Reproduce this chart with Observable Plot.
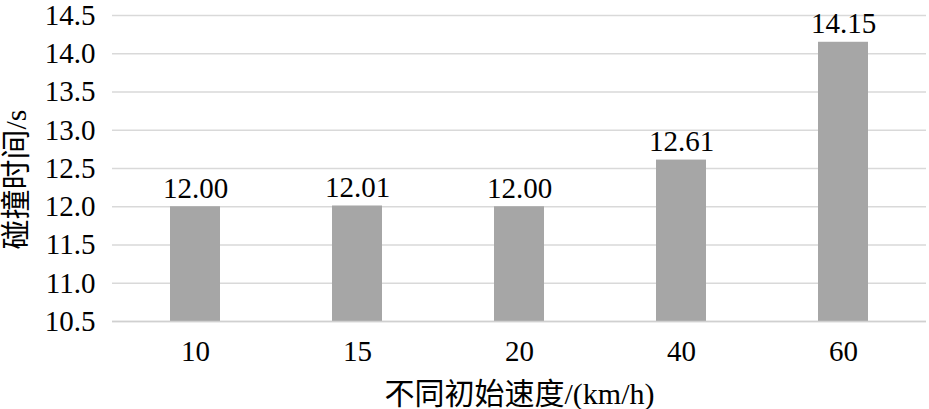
<!DOCTYPE html>
<html>
<head>
<meta charset="utf-8">
<script src="https://cdn.jsdelivr.net/npm/d3@7"></script>
<script src="https://cdn.jsdelivr.net/npm/@observablehq/plot@0.6"></script>
<style>
  html, body { margin: 0; padding: 0; background: #fff; }
  #chart svg { display: block; }
</style>
</head>
<body>
<div id="chart"></div>
<script>
const speeds = ["10", "15", "20", "40", "60"];
const times = [12.00, 12.01, 12.00, 12.61, 14.15];
const yTicks = [10.5, 11.0, 11.5, 12.0, 12.5, 13.0, 13.5, 14.0, 14.5];
const xTitle = "不同初始速度/(km/h)";
const yTitle = "碰撞时间/s";

const data = speeds.map((s, i) => ({speed: s, time: times[i]}));
const serif = "Liberation Serif, Times New Roman, Noto Sans CJK SC, serif";

const chart = Plot.plot({
  width: 929,
  height: 409,
  marginLeft: 112,
  marginRight: 3,
  marginTop: 15,
  marginBottom: 88,
  style: {fontFamily: serif, fontSize: "29px", color: "#000", background: "#fff"},
  x: {domain: speeds, paddingInner: 0.69, paddingOuter: 0.345, axis: null, label: null},
  y: {domain: [10.5, 14.5], axis: null, label: null},
  marks: [
    Plot.gridY(yTicks, {stroke: "#d9d9d9", strokeOpacity: 1, strokeWidth: 1.5}),
    Plot.barY(data, {x: "speed", y1: 10.5, y2: "time", fill: "#a6a6a6"}),
    Plot.ruleY([10.5], {stroke: "#d0d0d0", strokeWidth: 1.5}),
    Plot.text(data, {x: "speed", y: "time", text: d => d.time.toFixed(2), lineAnchor: "bottom", dy: -9, fontSize: 29, fontFamily: serif, fill: "#000"}),
    // x tick labels
    Plot.text(speeds, {x: d => d, text: d => d, frameAnchor: "bottom", lineAnchor: "top", dy: 19, fontSize: 29, fontFamily: serif, fill: "#000"}),
    // y tick labels
    Plot.text(yTicks, {y: d => d, text: d => d3.format(".1f")(d), frameAnchor: "left", textAnchor: "end", dx: -17, fontSize: 29, fontFamily: serif, fill: "#000"}),
    Plot.text([xTitle], {frameAnchor: "bottom", dy: 82, fontSize: 30, fontFamily: serif, lineAnchor: "bottom", fill: "#000"}),
    Plot.text([yTitle], {frameAnchor: "left", textAnchor: "middle", dx: -96, dy: 11, rotate: -90, fontSize: 30, fontFamily: serif, fill: "#000"})
  ]
});
document.getElementById("chart").appendChild(chart);
</script>
</body>
</html>
